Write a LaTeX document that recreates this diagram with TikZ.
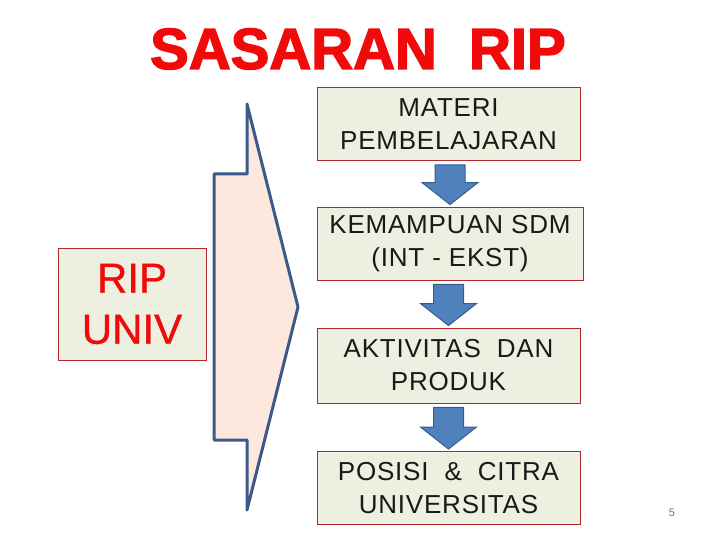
\documentclass[tikz,border=0pt]{standalone}
\usepackage{fontspec}
\setmainfont{Liberation Sans}
\newfontfamily\judulfont[FakeBold=2.5]{Liberation Sans Bold}
\newfontfamily\kotakfont[LetterSpace=3]{Liberation Sans}
\newfontfamily\ripfont[FakeBold=0.8]{Liberation Sans}
\usepackage{xcolor}
\usetikzlibrary{positioning,calc}

\definecolor{titlered}{HTML}{F00A0A}
\definecolor{boxfill}{HTML}{EDEFE0}
\definecolor{boxline}{HTML}{B0282A}
\definecolor{peach}{HTML}{FCE8DC}
\definecolor{navy}{HTML}{3B5A8A}
\definecolor{arrblue}{HTML}{4F81BD}
\definecolor{arrline}{HTML}{385D8A}

\tikzset{
  stage/.style={draw=boxline, line width=0.9pt, fill=boxfill, minimum width=263pt,
    minimum height=73pt, align=center, font=\kotakfont\fontsize{26}{33}\selectfont, text=black!90},
  downarr/.style={draw=arrline, line width=1pt, fill=arrblue}
}

\begin{document}
\begin{tikzpicture}[x=1pt, y=-1pt]
			\useasboundingbox (0,0) rectangle (720,540);
			% judul
			\node[text=titlered, font=\judulfont\fontsize{58}{60}\selectfont] (judul) at (358,49) {SASARAN\ \ RIP};
			% panah besar
			\draw [line width=3pt, navy, fill=peach, line join=round]
				(214,174) -- (247,174) -- (247,104) -- (298,307) -- (247,510) -- (247,440) -- (214,440) -- cycle;
			\node[draw=boxline, line width=0.9pt, fill=boxfill, minimum width=148pt, minimum height=112pt,
				align=center, text=titlered, font=\ripfont\fontsize{42}{51}\selectfont] (ripuniv) at (132,304) {RIP\\UNIV};
			% kotak sasaran
			\node[stage] (materi) at (448.5,124) {MATERI\\PEMBELAJARAN};
			\node[stage, minimum width=266pt] (kemampuan) at (450,243.5) {KEMAMPUAN SDM\\(INT - EKST)};
			\node[stage, minimum height=75pt] (aktivitas) at (448.5,365.5) {AKTIVITAS\ \ DAN\\PRODUK};
			\node[stage] (posisi) at (448.5,488) {POSISI\ \ \&\ \ CITRA\\UNIVERSITAS};
			% panah bawah
			\foreach \a/\b in {materi/kemampuan, kemampuan/aktivitas, aktivitas/posisi}
				\draw[downarr] let \p1=($(\a.south)+(0,4)$), \p2=($(\b.north)+(0,-2)$) in
					(\x2-15pt,\y1) -- (\x2+15pt,\y1) -- (\x2+15pt,\y2+22pt) -- (\x2+28pt,\y2+22pt)
					-- (\x2,\y2) -- (\x2-28pt,\y2+22pt) -- (\x2-15pt,\y2+22pt) -- cycle;
			\node[text=black!55, font=\fontsize{11}{12}\selectfont] (hal) at (672,513) {5};
		\end{tikzpicture}
\end{document}
